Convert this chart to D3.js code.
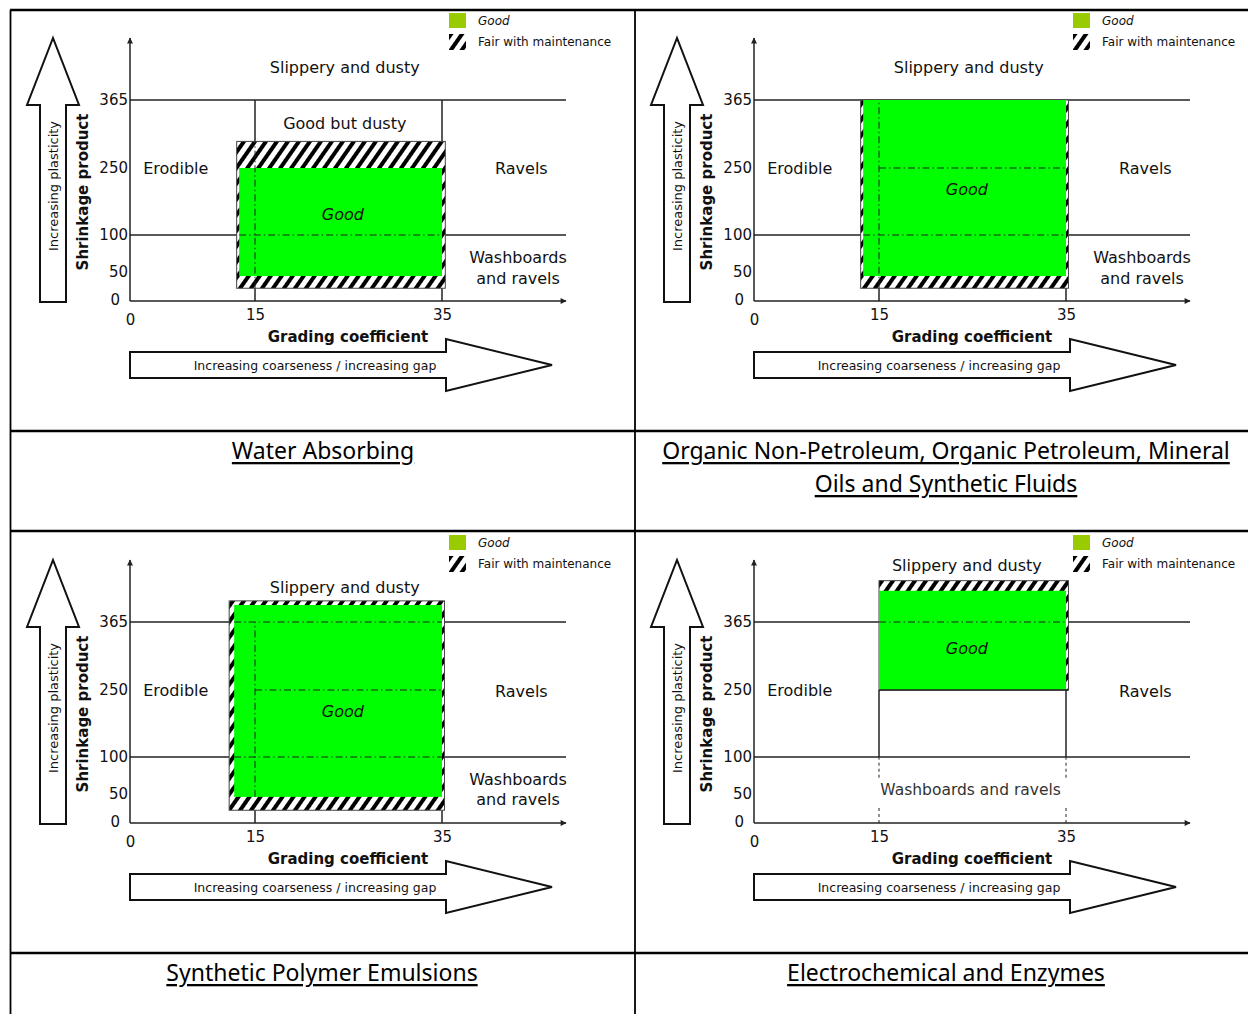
<!DOCTYPE html>
<html>
<head>
<meta charset="utf-8">
<script src="https://cdn.jsdelivr.net/npm/d3@7"></script>
<style>
  body { margin: 0; background: #fff; }
  svg text { font-family: "Comic Sans MS", "DejaVu Sans", sans-serif; fill: #111; }
  svg text.caption { font-family: "Noto Sans", sans-serif; text-decoration: underline; fill: #000; }
</style>
</head>
<body>
<div id="container"></div>
<script>
// ---- data ----
const captions = [
  ["Water Absorbing"],
  ["Organic Non-Petroleum, Organic Petroleum, Mineral", "Oils and Synthetic Fluids"],
  ["Synthetic Polymer Emulsions"],
  ["Electrochemical and Enzymes"]
];
const yTicks = [0, 50, 100, 250, 365];
const xTicks = [0, 15, 35];
const boundaries = [100, 365];
const legendItems = ["Good", "Fair with maintenance"];

// boxes: [x0, x1, y0, y1] in grading coefficient / shrinkage product units
const fairBoxes = [[12.8, 35.4, 22, 295], [12.8, 35.3, 22, 365], [11.9, 35.3, 22, 411], [15, 35.3, 250, 455]];
const goodBoxes = [[13.1, 35, 43, 250], [13.1, 35, 43, 365], [12.5, 35, 45, 402], [15, 35, 250, 433]];

// vertical boundaries: [x, y0, y1, dashed]
const verticals = [
  [[15, 0, 365, 0], [35, 0, 365, 0]],
  [[15, 0, 365, 0], [35, 0, 365, 0]],
  [[15, 0, 365, 0], [35, 0, 365, 0]],
  [[15, 100, 250, 0], [35, 100, 250, 0], [15, 72, 100, 1], [15, 0, 31, 1], [35, 72, 100, 1], [35, 0, 31, 1]]
];

// dash-dot guides: [x0, x1, y0, y1]
const guides = [
  [[13.1, 35, 100, 100], [15, 15, 22, 295]],
  [[15, 15, 22, 365], [15, 35, 250, 250], [13.1, 35, 100, 100]],
  [[12.5, 35, 365, 365], [15, 35, 250, 250], [12.5, 35, 100, 100], [15, 15, 45, 365]],
  [[15, 35, 365, 365]]
];

// zone labels: [text, grading coefficient, shrinkage product]
const zoneLabels = [
  [["Slippery and dusty", 24.6, 435], ["Good but dusty", 24.6, 326], ["Erodible", 5.5, 250], ["Ravels", 44.6, 249],
   ["Washboards", 44.2, 69], ["and ravels", 44.2, 38], ["Good", 24.4, 145]],
  [["Slippery and dusty", 24.6, 435], ["Erodible", 5.5, 250], ["Ravels", 44.6, 249],
   ["Washboards", 44.2, 69], ["and ravels", 44.2, 38], ["Good", 24.4, 201]],
  [["Slippery and dusty", 24.6, 441], ["Erodible", 5.5, 250], ["Ravels", 44.6, 247],
   ["Washboards", 44.2, 69], ["and ravels", 44.2, 40], ["Good", 24.4, 201]],
  [["Slippery and dusty", 24.4, 488], ["Erodible", 5.5, 250], ["Ravels", 44.6, 247],
   ["Washboards and ravels", 24.8, 55], ["Good", 24.4, 321]]
];

const xMax = 50, yMax = 500;

// ---- layout ----
const W = 1248, H = 1014;
const svg = d3.select("#container").append("svg").attr("width", W).attr("height", H);

const x = d3.scaleLinear().domain([0, 15, 35, xMax]).range([130, 255, 442, 566]);
const y = d3.scaleLinear().domain([0, 50, 100, 250, 365, yMax]).range([301, 272, 235, 168, 100, 38]);

const defs = svg.append("defs");
let hatch = defs.append("pattern")
  .attr("id", "hatch")
  .attr("patternUnits", "userSpaceOnUse")
  .attr("width", 9).attr("height", 9)
  .attr("patternTransform", "rotate(35)");
hatch.append("rect").attr("width", 9).attr("height", 9).attr("fill", "#fff");
hatch.append("rect").attr("width", 4).attr("height", 9).attr("fill", "#000");

defs.append("marker")
  .attr("id", "tip")
  .attr("viewBox", "0 0 10 10")
  .attr("refX", 9).attr("refY", 5)
  .attr("markerUnits", "userSpaceOnUse")
  .attr("markerWidth", 7).attr("markerHeight", 6)
  .attr("orient", "auto")
  .append("path").attr("d", "M0,0L10,5L0,10z").attr("fill", "#222");

const offsets = [[0, 0], [624, 0], [0, 522], [624, 522]];

offsets.forEach(([ox, oy], i) => {
  let g = svg.append("g").attr("transform", `translate(${ox},${oy})`);

  // legend
  g.append("rect").attr("x", 449).attr("y", 13).attr("width", 17).attr("height", 15).attr("fill", "#99cc00");
  g.append("rect").attr("x", 449).attr("y", 34).attr("width", 17).attr("height", 16).attr("fill", "url(#hatch)");
  g.selectAll(".leg")
    .data(legendItems)
    .enter()
    .append("text")
    .attr("x", 478)
    .attr("y", (d, k) => 21 + k * 21)
    .attr("dominant-baseline", "central")
    .style("font-size", "12px")
    .style("font-style", (d, k) => (k == 0 ? "italic" : "normal"))
    .text((d) => d);

  // big arrows
  let bx0 = 40, bx1 = 66;
  g.append("path")
    .attr("d", `M${bx0},${y(0) + 1}V105H27L53,${y(yMax)}L79,105H${bx1}V${y(0) + 1}Z`)
    .attr("fill", "#fff").attr("stroke", "#111").attr("stroke-width", 2);
  g.append("text")
    .attr("transform", `translate(${(bx0 + bx1) / 2},186) rotate(-90)`)
    .attr("text-anchor", "middle").attr("dominant-baseline", "central")
    .style("font-size", "13px")
    .text("Increasing plasticity");

  g.append("path")
    .attr("d", `M${x(0)},352H446V339L552,365L446,391V378H${x(0)}Z`)
    .attr("fill", "#fff").attr("stroke", "#111").attr("stroke-width", 2);
  g.append("text")
    .attr("x", 315).attr("y", 365)
    .attr("text-anchor", "middle").attr("dominant-baseline", "central")
    .style("font-size", "12.5px")
    .text("Increasing coarseness / increasing gap");

  // boundary lines
  g.selectAll(".hb")
    .data(boundaries)
    .enter()
    .append("line")
    .attr("x1", x(0)).attr("x2", x(xMax))
    .attr("y1", (d) => y(d)).attr("y2", (d) => y(d))
    .attr("stroke", "#222").attr("stroke-width", 1.5);

  g.selectAll(".vb")
    .data(verticals[i])
    .enter()
    .append("line")
    .attr("x1", (d) => x(d[0])).attr("x2", (d) => x(d[0]))
    .attr("y1", (d) => y(d[1])).attr("y2", (d) => y(d[2]))
    .attr("stroke", "#222")
    .attr("stroke-width", (d) => (d[3] ? 1 : 1.5))
    .attr("stroke-dasharray", (d) => (d[3] ? "3,3" : null));

  // zones
  let f = fairBoxes[i];
  g.append("rect")
    .attr("x", x(f[0])).attr("y", y(f[3]))
    .attr("width", x(f[1]) - x(f[0])).attr("height", y(f[2]) - y(f[3]))
    .attr("fill", "url(#hatch)").attr("stroke", "#444").attr("stroke-width", 1);
  let gb = goodBoxes[i];
  g.append("rect")
    .attr("x", x(gb[0])).attr("y", y(gb[3]))
    .attr("width", x(gb[1]) - x(gb[0])).attr("height", y(gb[2]) - y(gb[3]))
    .attr("fill", "#00ff00");
  if (i == 3) {
    g.append("line")
      .attr("x1", x(gb[0])).attr("x2", x(f[1]))
      .attr("y1", y(gb[2])).attr("y2", y(gb[2]))
      .attr("stroke", "#222").attr("stroke-width", 1.5);
  }

  g.selectAll(".guide")
    .data(guides[i])
    .enter()
    .append("line")
    .attr("x1", (d) => x(d[0])).attr("x2", (d) => x(d[1]))
    .attr("y1", (d) => y(d[2])).attr("y2", (d) => y(d[3]))
    .attr("stroke", "#222").attr("stroke-width", 1)
    .attr("stroke-dasharray", "7,3,1.5,3");

  // axes
  g.append("line")
    .attr("x1", x(0)).attr("x2", x(0)).attr("y1", y(0)).attr("y2", y(yMax))
    .attr("stroke", "#222").attr("stroke-width", 1.5).attr("marker-end", "url(#tip)");
  g.append("line")
    .attr("x1", x(0)).attr("x2", x(xMax)).attr("y1", y(0)).attr("y2", y(0))
    .attr("stroke", "#222").attr("stroke-width", 1.5).attr("marker-end", "url(#tip)");

  let ya = g.append("g")
    .attr("transform", `translate(${x(0)},0)`)
    .call(d3.axisLeft(y).tickValues(yTicks).tickSize(0).tickPadding(2));
  ya.select(".domain").remove();
  ya.selectAll("text")
    .style("font-size", "15px")
    .attr("x", (d) => (d == 0 ? -10 : -2))
    .attr("dy", (d) => (d == 0 ? "0.2em" : "0.32em"));
  ya.attr("font-family", null).attr("font-size", null);

  let xa = g.append("g")
    .attr("transform", `translate(0,${y(0)})`)
    .call(d3.axisBottom(x).tickValues(xTicks).tickSize(0).tickPadding(8));
  xa.select(".domain").remove();
  xa.selectAll("text")
    .style("font-size", "15px")
    .attr("y", (d) => (d == 0 ? 13 : 8));
  xa.attr("font-family", null).attr("font-size", null);

  // axis titles
  g.append("text")
    .attr("transform", `translate(83,192) rotate(-90)`)
    .attr("text-anchor", "middle").attr("dominant-baseline", "central")
    .style("font-size", "15px").style("font-weight", "bold")
    .text("Shrinkage product");
  g.append("text")
    .attr("x", 348).attr("y", 337)
    .attr("text-anchor", "middle").attr("dominant-baseline", "central")
    .style("font-size", "15px").style("font-weight", "bold")
    .text("Grading coefficient");

  // zone labels
  g.selectAll(".zone")
    .data(zoneLabels[i])
    .enter()
    .append("text")
    .attr("x", (d) => x(d[1]))
    .attr("y", (d) => y(d[2]))
    .attr("text-anchor", "middle").attr("dominant-baseline", "central")
    .style("font-size", (d) => (d[0].length > 20 ? "15.5px" : "16px"))
    .style("font-style", (d) => (d[0] == "Good" ? "italic" : "normal"))
    .style("fill", (d) => (d[0].length > 20 ? "#333" : null))
    .text((d) => d[0]);
});

// table grid
let grid = svg.append("g").attr("stroke", "#000");
[10, 431, 531, 953].forEach((yy) => {
  grid.append("line").attr("x1", 10).attr("x2", W).attr("y1", yy).attr("y2", yy).attr("stroke-width", 2.5);
});
[10.5, 635].forEach((xx) => {
  grid.append("line").attr("x1", xx).attr("x2", xx).attr("y1", 10).attr("y2", H).attr("stroke-width", 1.8);
});

// captions
let capPos = [[323, 450], [946, 450], [322, 972], [946, 972]];
captions.forEach((lines, i) => {
  svg.selectAll(".cap" + i)
    .data(lines)
    .enter()
    .append("text")
    .attr("class", "caption")
    .attr("x", capPos[i][0])
    .attr("y", (d, k) => capPos[i][1] + k * 33)
    .attr("text-anchor", "middle").attr("dominant-baseline", "central")
    .style("font-size", "23px")
    .text((d) => d);
});
</script>
</body>
</html>
